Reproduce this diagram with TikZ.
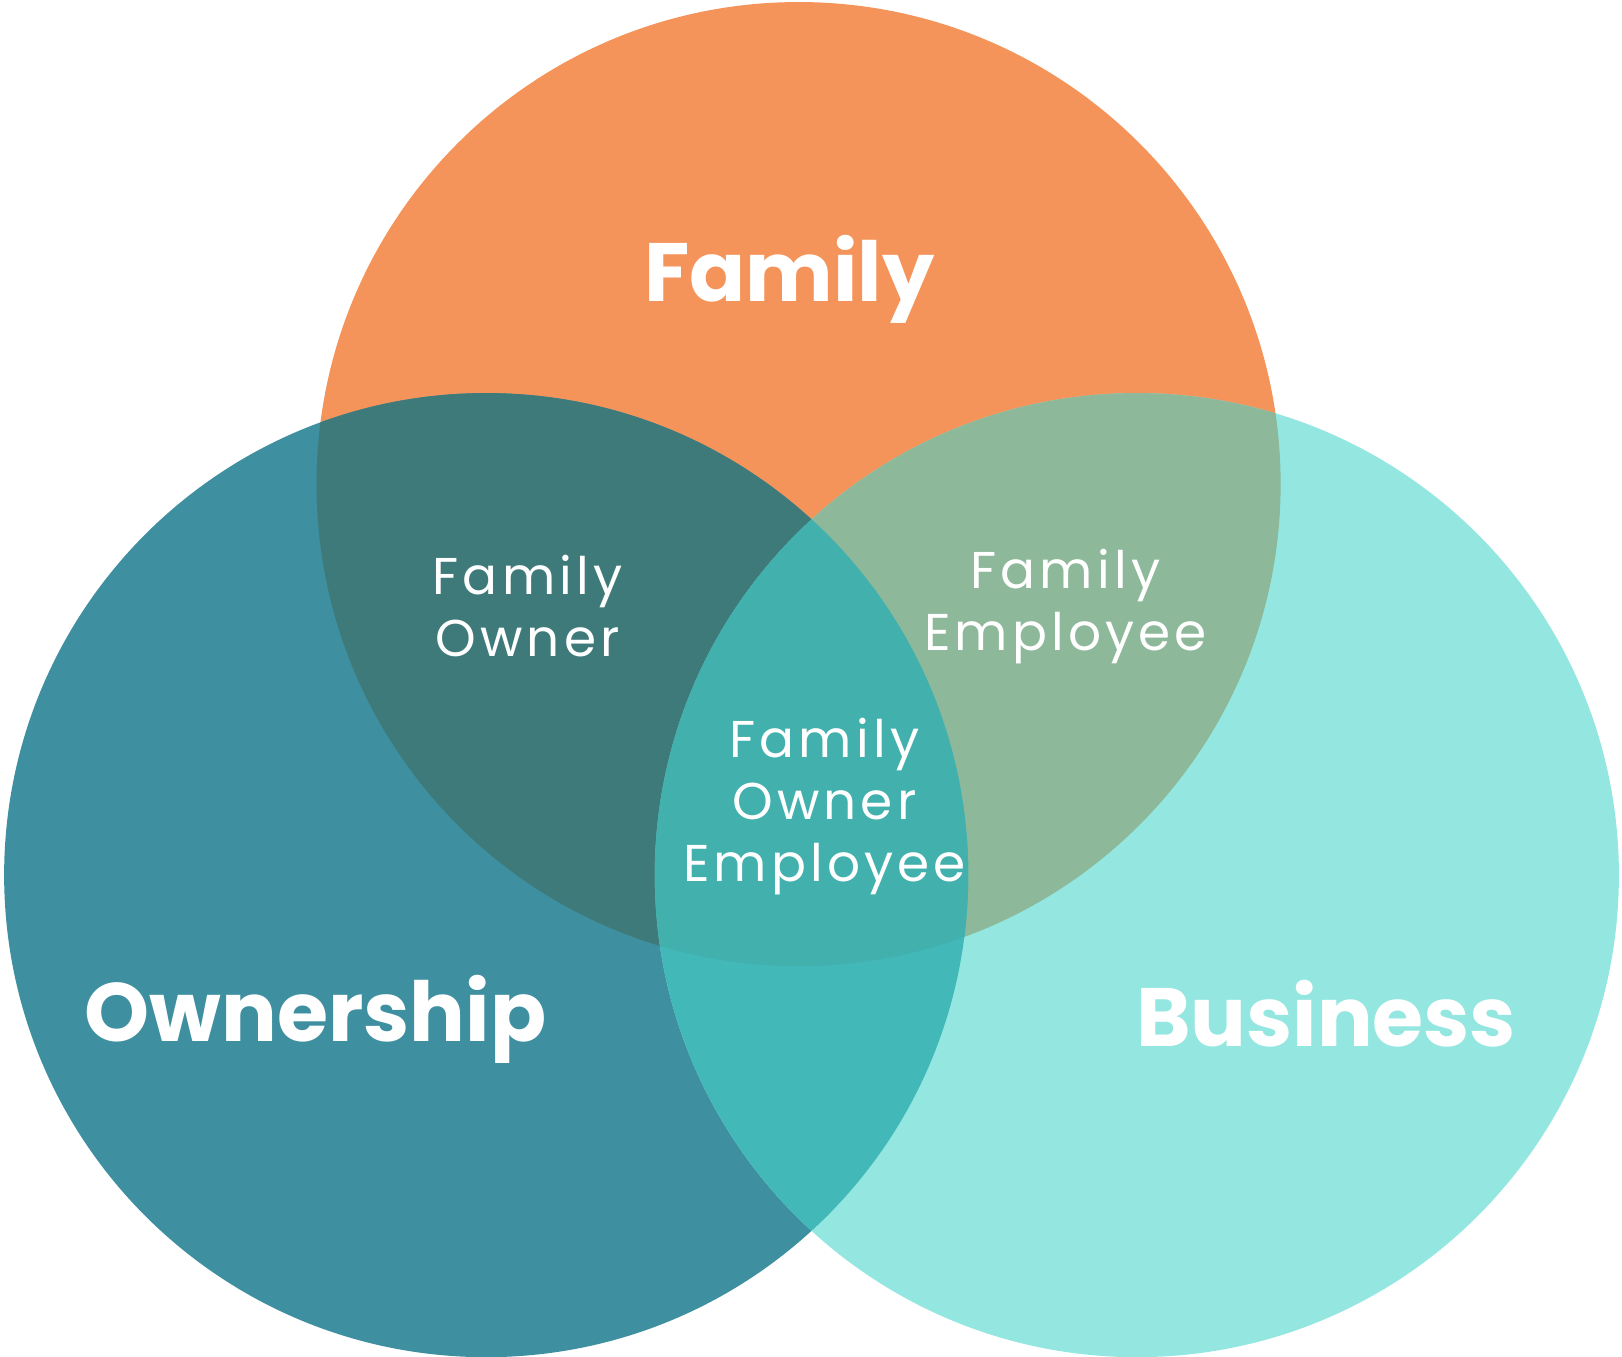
\documentclass[tikz,border=0pt]{standalone}
\usepackage{fontspec}
\setmainfont{Poppins}
\newfontfamily\thinfont[LetterSpace=8]{Poppins}
\definecolor{famcol}{HTML}{F4945A}
\definecolor{owncol}{HTML}{3E8FA0}
\definecolor{buscol}{HTML}{93E7E0}
\definecolor{focol}{HTML}{3E7A7A}
\definecolor{fbcol}{HTML}{8DB899}
\definecolor{obcol}{HTML}{42B8B8}
\definecolor{allcol}{HTML}{42B0AD}
\begin{document}
\begin{tikzpicture}[
        x=1pt, y=1pt,
        big_label/.style={text=white, font=\fontsize{80}{90}\selectfont\bfseries},
        small_label/.style={text=white, align=center, font=\fontsize{50}{60}\thinfont}
    ]
        \useasboundingbox (0,0) rectangle (1568,1311);
        % Centres
        \coordinate (fam) at (772,843);
        \coordinate (own) at (470,465);
        \coordinate (bus) at (1099,465);

        % Circles
        \fill[famcol] (fam) circle (466);
        \fill[owncol] (own) circle (466);
        \fill[buscol] (bus) circle (466);

        % Overlaps
        \begin{scope}
            \clip (fam) circle (466);
            \fill[focol] (own) circle (466);
            \fill[fbcol] (bus) circle (466);
        \end{scope}
        \begin{scope}
            \clip (own) circle (466);
            \fill[obcol] (bus) circle (466);
        \end{scope}
        \begin{scope}
            \clip (fam) circle (466);
            \clip (own) circle (466);
            \fill[allcol] (bus) circle (466);
        \end{scope}

        % Labels
        \node[big_label] (famlabel) at (763,1041) {Family};
        \node[big_label] (ownlabel) at (305,326) {Ownership};
        \node[big_label] (buslabel) at (1282,331) {Business};
        \node[small_label] (folabel) at (510,725) {Family\\Owner};
        \node[small_label] (fblabel) at (1030,725) {Family\\Employee};
        \node[small_label] (alllabel) at (797,531) {Family\\Owner\\Employee};
    \end{tikzpicture}
\end{document}
